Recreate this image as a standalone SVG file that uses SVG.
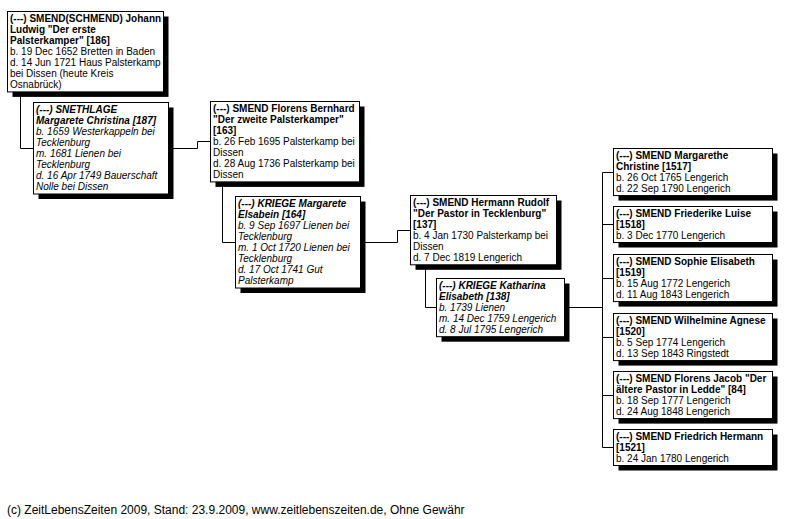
<svg xmlns="http://www.w3.org/2000/svg" width="795" height="519" viewBox="0 0 795 519">
<style>
.sh{fill:#000}
.bx{fill:#fff;stroke:#000;stroke-width:1}
text{font-family:"Liberation Sans",Arial,sans-serif;font-size:10px;fill:#000}
.b{font-weight:bold}
.i{font-style:italic}
.ln{fill:none;stroke:#000;stroke-width:1}
.ft{font-size:12px}
</style>
<rect width="795" height="519" fill="#fff"/>
<g id="connectors">
<polyline class="ln" points="20.5,92 20.5,148.5 197.5,148.5 197.5,141.5 210.5,141.5"/>
<polyline class="ln" points="222.5,182 222.5,242.5 397.5,242.5 397.5,230.5 410.5,230.5"/>
<polyline class="ln" points="425.5,265 425.5,307.5 602.5,307.5"/>
<polyline class="ln" points="613.5,172.5 602.5,172.5 602.5,447.5 613.5,447.5"/>
<line class="ln" x1="602.5" y1="224.5" x2="613.5" y2="224.5"/>
<line class="ln" x1="602.5" y1="278.5" x2="613.5" y2="278.5"/>
<line class="ln" x1="602.5" y1="337.5" x2="613.5" y2="337.5"/>
<line class="ln" x1="602.5" y1="395.5" x2="613.5" y2="395.5"/>
</g>
<g id="n186">
<rect class="sh" x="12.5" y="16.5" width="156" height="80.4"/>
<rect class="bx" x="7.5" y="11.5" width="156" height="80.4"/>
<text x="10" y="21.5" class="b">(---) SMEND(SCHMEND) Johann</text>
<text x="10" y="32.6" class="b">Ludwig "Der erste</text>
<text x="10" y="43.7" class="b">Palsterkamper" [186]</text>
<text x="10" y="54.8">b. 19 Dec 1652 Bretten in Baden</text>
<text x="10" y="65.9">d. 14 Jun 1721 Haus Palsterkamp</text>
<text x="10" y="77">bei Dissen (heute Kreis</text>
<text x="10" y="88.1">Osnabrück)</text>
</g>
<g id="n187">
<rect class="sh" x="38.5" y="107.5" width="135" height="91.5"/>
<rect class="bx" x="33.5" y="102.5" width="135" height="91.5"/>
<text x="36" y="112.5" class="b i">(---) SNETHLAGE</text>
<text x="36" y="123.6" class="b i">Margarete Christina [187]</text>
<text x="36" y="134.7" class="i">b. 1659 Westerkappeln bei</text>
<text x="36" y="145.8" class="i">Tecklenburg</text>
<text x="36" y="156.9" class="i">m. 1681 Lienen bei</text>
<text x="36" y="168" class="i">Tecklenburg</text>
<text x="36" y="179.1" class="i">d. 16 Apr 1749 Bauerschaft</text>
<text x="36" y="190.2" class="i">Nolle bei Dissen</text>
</g>
<g id="n163">
<rect class="sh" x="215.5" y="106.5" width="149" height="80.4"/>
<rect class="bx" x="210.5" y="101.5" width="149" height="80.4"/>
<text x="213" y="111.5" class="b">(---) SMEND Florens Bernhard</text>
<text x="213" y="122.6" class="b">"Der zweite Palsterkamper"</text>
<text x="213" y="133.7" class="b">[163]</text>
<text x="213" y="144.8">b. 26 Feb 1695 Palsterkamp bei</text>
<text x="213" y="155.9">Dissen</text>
<text x="213" y="167">d. 28 Aug 1736 Palsterkamp bei</text>
<text x="213" y="178.1">Dissen</text>
</g>
<g id="n164">
<rect class="sh" x="240.5" y="201.5" width="125" height="91.5"/>
<rect class="bx" x="235.5" y="196.5" width="125" height="91.5"/>
<text x="238" y="206.5" class="b i">(---) KRIEGE Margarete</text>
<text x="238" y="217.6" class="b i">Elsabein [164]</text>
<text x="238" y="228.7" class="i">b. 9 Sep 1697 Lienen bei</text>
<text x="238" y="239.8" class="i">Tecklenburg</text>
<text x="238" y="250.9" class="i">m. 1 Oct 1720 Lienen bei</text>
<text x="238" y="262" class="i">Tecklenburg</text>
<text x="238" y="273.1" class="i">d. 17 Oct 1741 Gut</text>
<text x="238" y="284.2" class="i">Palsterkamp</text>
</g>
<g id="n137">
<rect class="sh" x="415.5" y="200.5" width="146" height="69.3"/>
<rect class="bx" x="410.5" y="195.5" width="146" height="69.3"/>
<text x="413" y="205.5" class="b">(---) SMEND Hermann Rudolf</text>
<text x="413" y="216.6" class="b">"Der Pastor in Tecklenburg"</text>
<text x="413" y="227.7" class="b">[137]</text>
<text x="413" y="238.8">b. 4 Jan 1730 Palsterkamp bei</text>
<text x="413" y="249.9">Dissen</text>
<text x="413" y="261">d. 7 Dec 1819 Lengerich</text>
</g>
<g id="n138">
<rect class="sh" x="441.5" y="283.5" width="128" height="58.2"/>
<rect class="bx" x="436.5" y="278.5" width="128" height="58.2"/>
<text x="439" y="288.5" class="b i">(---) KRIEGE Katharina</text>
<text x="439" y="299.6" class="b i">Elisabeth [138]</text>
<text x="439" y="310.7" class="i">b. 1739 Lienen</text>
<text x="439" y="321.8" class="i">m. 14 Dec 1759 Lengerich</text>
<text x="439" y="332.9" class="i">d. 8 Jul 1795 Lengerich</text>
</g>
<g id="n1517">
<rect class="sh" x="618.5" y="153.5" width="159" height="47.1"/>
<rect class="bx" x="613.5" y="148.5" width="159" height="47.1"/>
<text x="616" y="158.5" class="b">(---) SMEND Margarethe</text>
<text x="616" y="169.6" class="b">Christine [1517]</text>
<text x="616" y="180.7">b. 26 Oct 1765 Lengerich</text>
<text x="616" y="191.8">d. 22 Sep 1790 Lengerich</text>
</g>
<g id="n1518">
<rect class="sh" x="618.5" y="211.5" width="159" height="36"/>
<rect class="bx" x="613.5" y="206.5" width="159" height="36"/>
<text x="616" y="216.5" class="b">(---) SMEND Friederike Luise</text>
<text x="616" y="227.6" class="b">[1518]</text>
<text x="616" y="238.7">b. 3 Dec 1770 Lengerich</text>
</g>
<g id="n1519">
<rect class="sh" x="618.5" y="259.5" width="159" height="47.1"/>
<rect class="bx" x="613.5" y="254.5" width="159" height="47.1"/>
<text x="616" y="264.5" class="b">(---) SMEND Sophie Elisabeth</text>
<text x="616" y="275.6" class="b">[1519]</text>
<text x="616" y="286.7">b. 15 Aug 1772 Lengerich</text>
<text x="616" y="297.8">d. 11 Aug 1843 Lengerich</text>
</g>
<g id="n1520">
<rect class="sh" x="618.5" y="318.5" width="159" height="47.1"/>
<rect class="bx" x="613.5" y="313.5" width="159" height="47.1"/>
<text x="616" y="323.5" class="b">(---) SMEND Wilhelmine Agnese</text>
<text x="616" y="334.6" class="b">[1520]</text>
<text x="616" y="345.7">b. 5 Sep 1774 Lengerich</text>
<text x="616" y="356.8">d. 13 Sep 1843 Ringstedt</text>
</g>
<g id="n84">
<rect class="sh" x="618.5" y="376.5" width="159" height="47.1"/>
<rect class="bx" x="613.5" y="371.5" width="159" height="47.1"/>
<text x="616" y="381.5" class="b">(---) SMEND Florens Jacob "Der</text>
<text x="616" y="392.6" class="b">ältere Pastor in Ledde" [84]</text>
<text x="616" y="403.7">b. 18 Sep 1777 Lengerich</text>
<text x="616" y="414.8">d. 24 Aug 1848 Lengerich</text>
</g>
<g id="n1521">
<rect class="sh" x="618.5" y="434.5" width="159" height="36"/>
<rect class="bx" x="613.5" y="429.5" width="159" height="36"/>
<text x="616" y="439.5" class="b">(---) SMEND Friedrich Hermann</text>
<text x="616" y="450.6" class="b">[1521]</text>
<text x="616" y="461.7">b. 24 Jan 1780 Lengerich</text>
</g>
<text x="7" y="513.5" class="ft">(c) ZeitLebensZeiten 2009, Stand: 23.9.2009, www.zeitlebenszeiten.de, Ohne Gewähr</text>
</svg>
